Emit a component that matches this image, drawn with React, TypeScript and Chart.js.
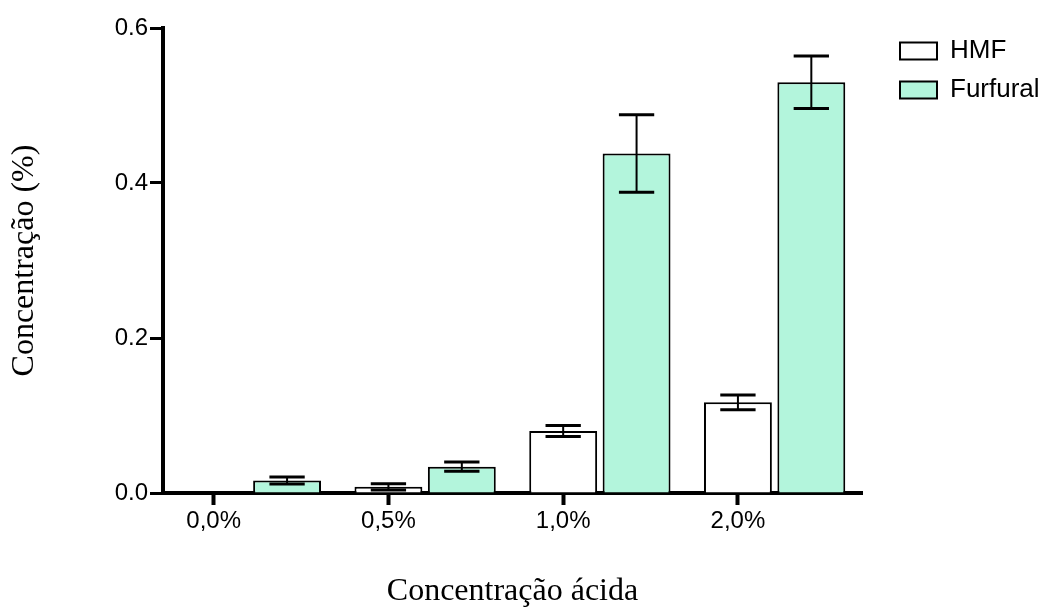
import React, { useEffect, useRef } from 'react';
import { Chart, registerables } from 'chart.js';

Chart.register(...registerables);

// ---- data ----
const categories = ['0,0%', '0,5%', '1,0%', '2,0%'];
const seriesNames = ['HMF', 'Furfural'];
const hmfValues = [0, 0.008, 0.08, 0.117];
const hmfErrors = [0, 0.004, 0.007, 0.0095];
const furfuralValues = [0.016, 0.034, 0.438, 0.53];
const furfuralErrors = [0.0045, 0.006, 0.05, 0.034];
const yTickValues = [0, 0.2, 0.4, 0.6];

const xTitle = 'Concentração ácida';
const yTitle = 'Concentração (%)';

// ---- layout / style constants ----
const W = 1062;
const H = 612;
const CATEGORY_PCT = 0.84;
const BAR_PCT = 0.925;
const PLOT_LEFT = 163;
const PLOT_RIGHT = 862;
const PLOT_BOTTOM = 493;
const TOP_PAD = 25;
const TOP_GAP = 3;
const LEGEND_PAD = 13;
const RIGHT_GAP = 38 - LEGEND_PAD;
const BOX_W = 37;
const SANS = "'Liberation Sans', Arial, sans-serif";
const SERIF = "'Liberation Serif', 'Times New Roman', serif";
const LEGEND_FONT_SIZE = 26;
const TITLE_FONT_SIZE = 32;
const FURFURAL_COLOR = '#b3f5dc';

const errorBarPlugin = {
  id: 'errorBars',
  afterDatasetsDraw(chart: any) {
    const { ctx } = chart;
    const yScale = chart.scales.y;
    chart.data.datasets.forEach((ds: any, i: number) => {
      const meta = chart.getDatasetMeta(i);
      const errs: number[] = ds.errors || [];
      meta.data.forEach((bar: any, j: number) => {
        const e = errs[j];
        if (!e) return;
        const v = ds.data[j] as number;
        const top = yScale.getPixelForValue(v + e);
        const bot = yScale.getPixelForValue(v - e);
        const half = bar.width * 0.26;
        ctx.save();
        ctx.strokeStyle = '#000';
        ctx.lineWidth = 2;
        ctx.beginPath();
        ctx.moveTo(bar.x, top);
        ctx.lineTo(bar.x, bot);
        ctx.stroke();
        ctx.lineWidth = 3;
        ctx.beginPath();
        ctx.moveTo(bar.x - half, top);
        ctx.lineTo(bar.x + half, top);
        ctx.moveTo(bar.x - half, bot);
        ctx.lineTo(bar.x + half, bot);
        ctx.stroke();
        ctx.restore();
      });
    });
  },
};

export default function App() {
  const canvasRef = useRef<HTMLCanvasElement | null>(null);

  useEffect(() => {
    const canvas = canvasRef.current;
    if (!canvas) return;
    const mctx = canvas.getContext('2d')!;
    mctx.font = `${LEGEND_FONT_SIZE}px ${SANS}`;
    const textW = Math.max(...seriesNames.map((n) => mctx.measureText(n).width));
    const legendW = LEGEND_PAD + BOX_W + LEGEND_FONT_SIZE / 2 + textW + 10;
    const rightPad = Math.max(0, W - PLOT_RIGHT - RIGHT_GAP - legendW);

    const chart = new Chart(canvas, {
      type: 'bar',
      data: {
        labels: categories,
        datasets: [
          {
            label: seriesNames[0],
            data: hmfValues,
            errors: hmfErrors,
            backgroundColor: '#ffffff',
            borderColor: '#000000',
            borderWidth: 2,
            categoryPercentage: CATEGORY_PCT,
            barPercentage: BAR_PCT,
            xAxisID: 'x',
            yAxisID: 'y',
          } as any,
          {
            label: seriesNames[1],
            data: furfuralValues,
            errors: furfuralErrors,
            backgroundColor: FURFURAL_COLOR,
            borderColor: '#000000',
            borderWidth: 2,
            categoryPercentage: CATEGORY_PCT,
            barPercentage: BAR_PCT,
            xAxisID: 'x',
            yAxisID: 'y',
          } as any,
        ],
      },
      options: {
        responsive: false,
        animation: false,
        devicePixelRatio: 1,
        layout: { padding: { top: TOP_PAD, right: rightPad, bottom: 0, left: 0 } },
        plugins: {
          tooltip: { enabled: false },
          legend: {
            display: true,
            position: 'right',
            align: 'start',
            labels: {
              boxWidth: BOX_W,
              boxHeight: 17,
              padding: LEGEND_PAD,
              color: '#000',
              font: { family: SANS, size: LEGEND_FONT_SIZE },
            },
          },
        },
        scales: {
          x: {
            type: 'category',
            display: false,
            offset: true,
          },
          xTicks: {
            type: 'linear',
            position: 'bottom',
            offset: false,
            min: -0.5,
            max: categories.length - 0.5,
            afterBuildTicks: (s: any) => {
              s.ticks = categories.map((_, i) => ({ value: i - CATEGORY_PCT / 4 }));
            },
            ticks: {
              autoSkip: false,
              maxRotation: 0,
              minRotation: 0,
              padding: 2,
              color: '#000',
              font: { family: SANS, size: 24 },
              callback: (_v: any, i: number) => categories[i],
            },
            grid: {
              display: true,
              offset: false,
              drawOnChartArea: false,
              drawTicks: true,
              tickLength: 12,
              tickWidth: 4,
              tickColor: '#000',
              color: '#000',
            },
            border: { display: true, color: '#000', width: 4 },
            title: {
              display: true,
              text: xTitle,
              color: '#000',
              font: { family: SERIF, size: TITLE_FONT_SIZE },
              padding: { top: 0, bottom: 1 },
            },
            afterFit: (s: any) => {
              s.height = H - PLOT_BOTTOM;
            },
          },
          y: {
            type: 'linear',
            position: 'left',
            min: 0,
            max: 0.6,
            afterBuildTicks: (s: any) => {
              s.ticks = yTickValues.map((v) => ({ value: v }));
            },
            ticks: {
              padding: 2,
              color: '#000',
              font: { family: SANS, size: 24 },
              callback: (v: any) => Number(v).toFixed(1),
            },
            grid: {
              display: true,
              drawOnChartArea: false,
              drawTicks: true,
              tickLength: 13,
              tickWidth: 3,
              tickColor: '#000',
              color: '#000',
            },
            border: { display: true, color: '#000', width: 4 },
            title: {
              display: true,
              text: yTitle,
              color: '#000',
              font: { family: SERIF, size: TITLE_FONT_SIZE },
              padding: { top: 5, bottom: 0 },
            },
            afterFit: (s: any) => {
              s.width = PLOT_LEFT;
            },
          },
          gapTop: {
            type: 'linear',
            position: 'top',
            display: true,
            offset: false,
            grid: { display: false, offset: false },
            border: { display: false },
            ticks: { display: false },
            afterFit: (s: any) => {
              s.height = TOP_GAP;
            },
          },
          gapRight: {
            type: 'linear',
            position: 'right',
            display: true,
            grid: { display: false },
            border: { display: false },
            ticks: { display: false },
            afterFit: (s: any) => {
              s.width = RIGHT_GAP;
            },
          },
        } as any,
      },
      plugins: [errorBarPlugin],
    } as any);

    return () => {
      chart.destroy();
    };
  }, []);

  return (
    <div style={{ position: 'absolute', left: 0, top: 0, width: W, height: H, background: '#fff' }}>
      <canvas ref={canvasRef} width={W} height={H} style={{ display: 'block', width: W, height: H }} />
    </div>
  );
}
